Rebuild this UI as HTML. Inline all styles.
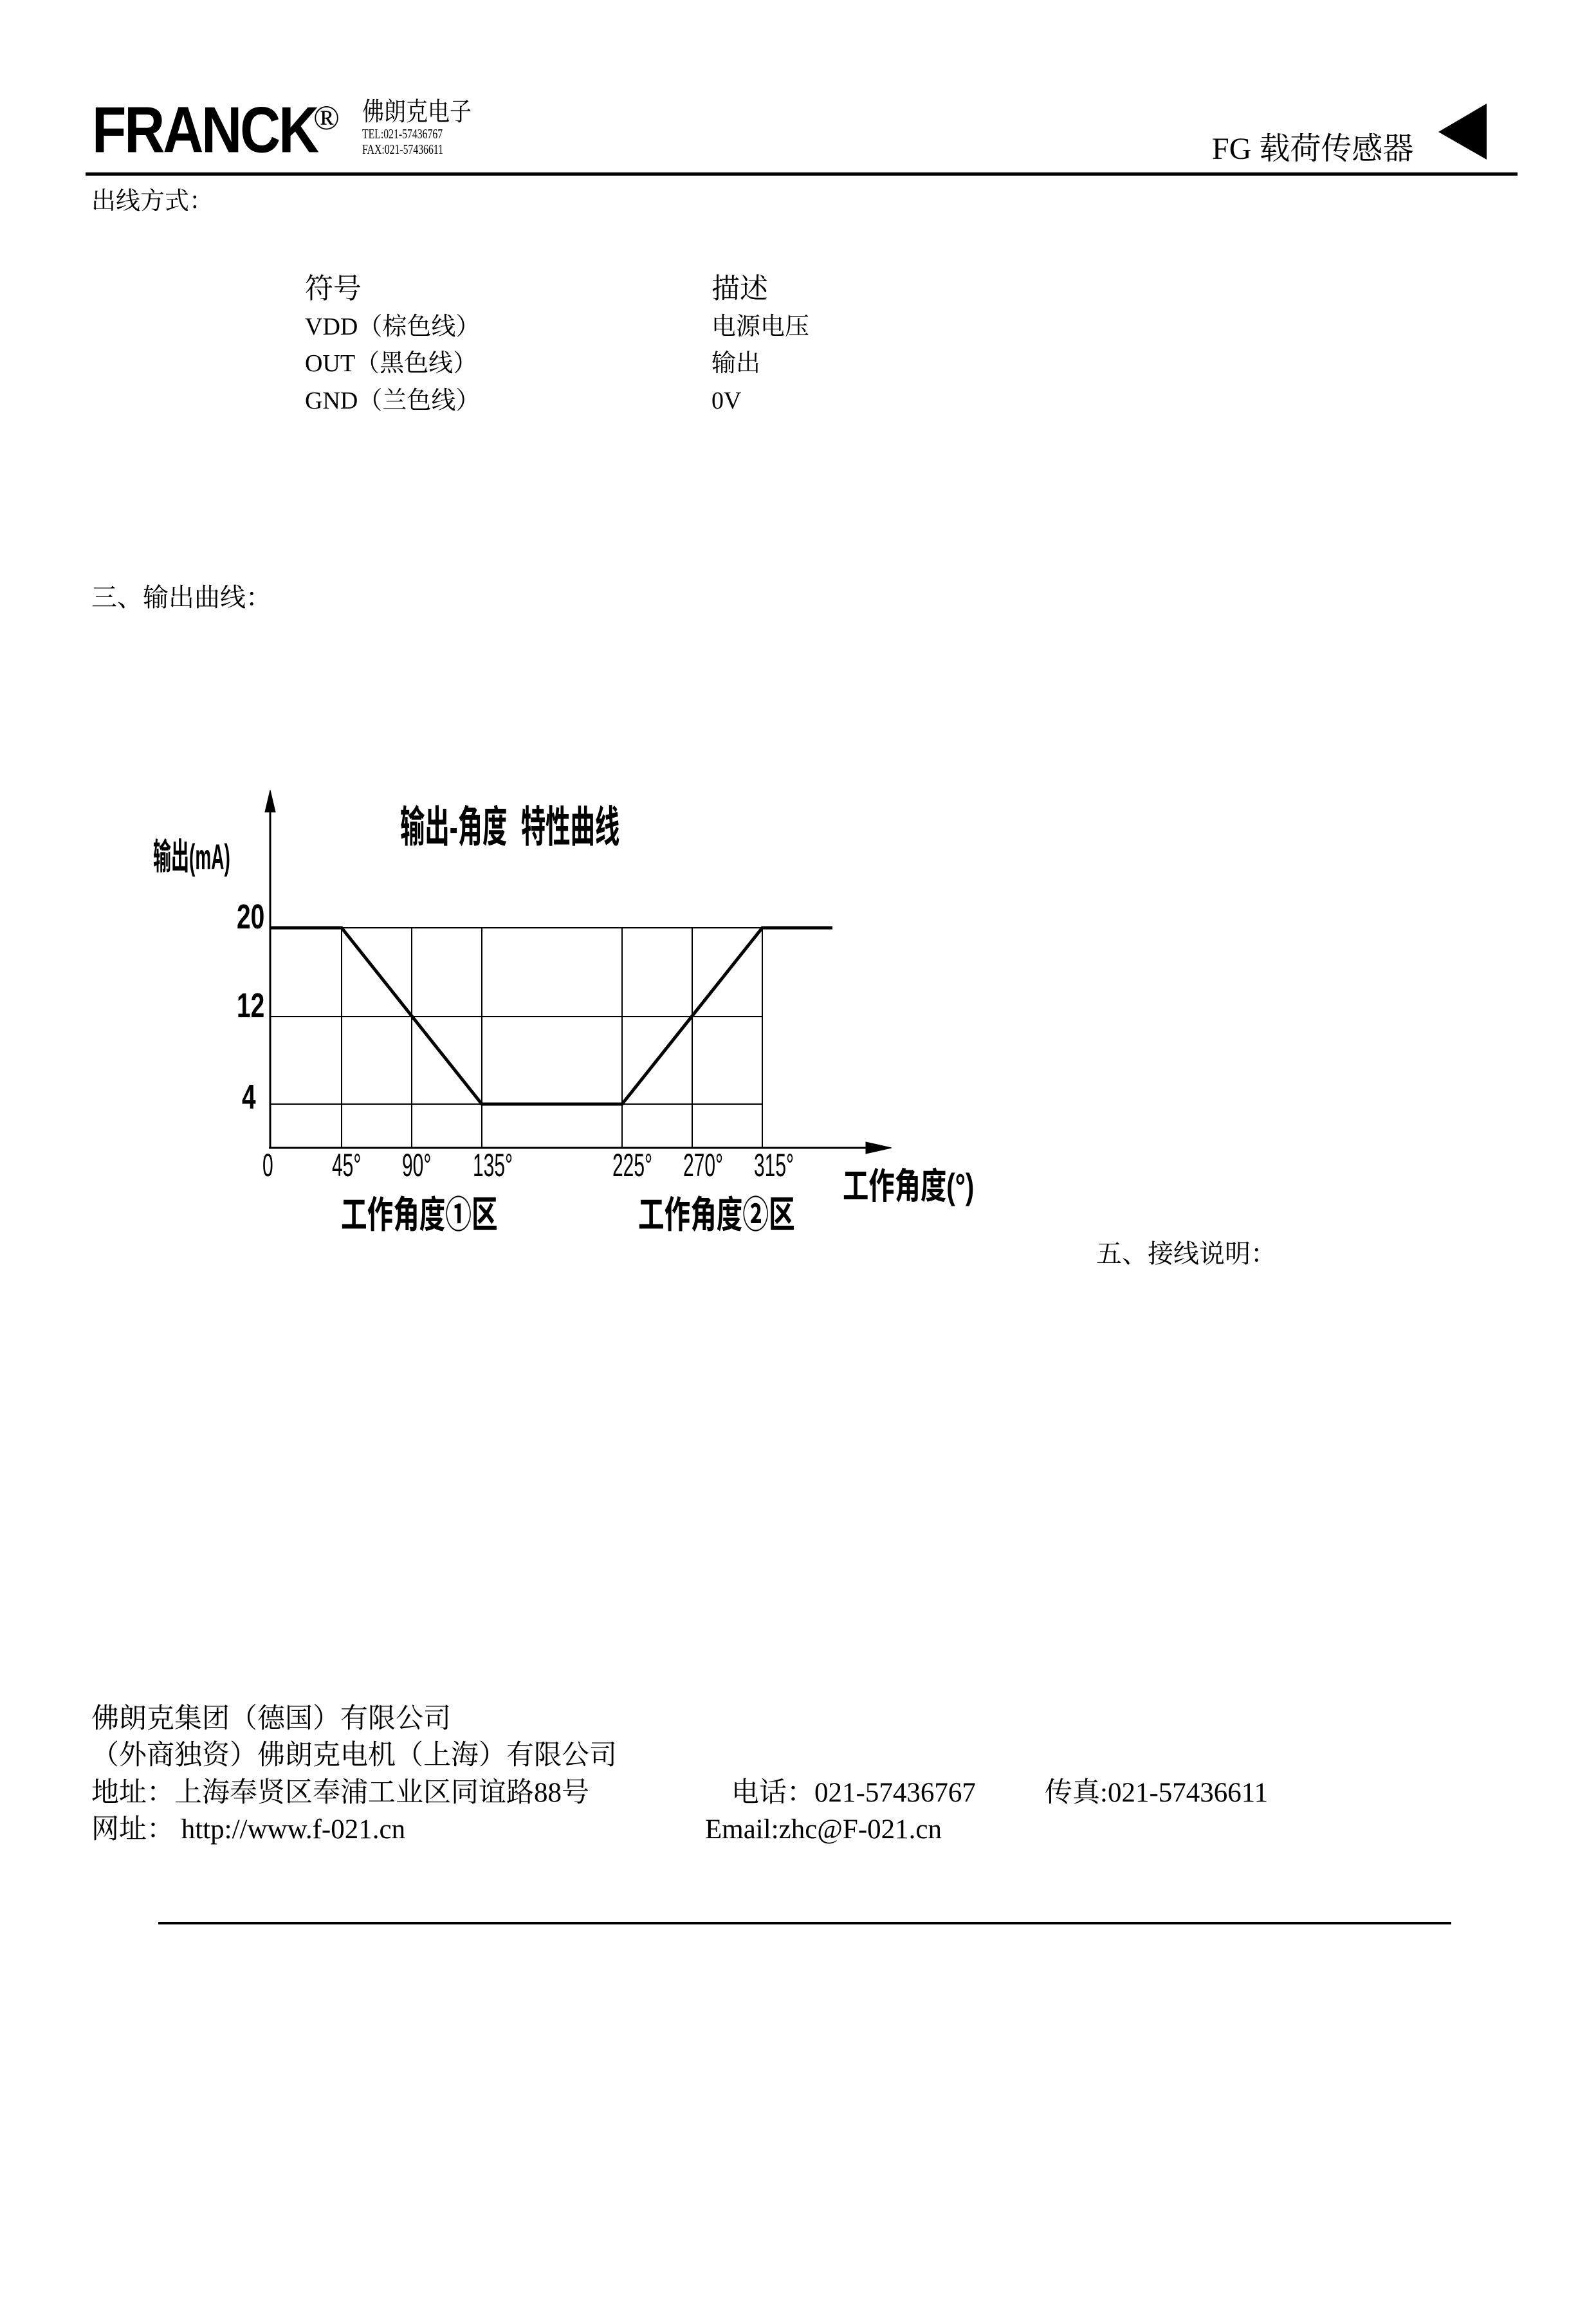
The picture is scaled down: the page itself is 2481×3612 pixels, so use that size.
<!DOCTYPE html>
<html><head><meta charset="utf-8">
<style>
html,body{margin:0;padding:0;background:#fff;}
body{width:2481px;height:3612px;position:relative;overflow:hidden;font-family:"Liberation Serif","Noto Serif CJK SC",serif;color:#000;}
.t{position:absolute;white-space:nowrap;line-height:1;}
.b{font-family:"Liberation Sans","Noto Sans CJK SC",sans-serif;font-weight:bold;transform-origin:0 0;}
</style></head><body>
<div class="t b" style="left:143px;top:152px;font-size:112px;letter-spacing:-4px;transform:scale(0.78,0.9);">FRANCK</div>
<div class="t" style="left:487px;top:156px;font-size:54px;">®</div>
<div class="t" style="left:563px;top:154px;font-size:40px;transform:scaleX(0.85);transform-origin:0 0;">佛朗克电子</div>
<div class="t" style="left:563px;top:198px;font-size:21px;transform:scaleX(0.75);transform-origin:0 0;">TEL:021-57436767</div>
<div class="t" style="left:563px;top:222px;font-size:21px;transform:scaleX(0.75);transform-origin:0 0;">FAX:021-57436611</div>
<div class="t" style="left:1884px;top:208px;font-size:48px;">FG 载荷传感器</div>
<svg style="position:absolute;left:0;top:0" width="2481" height="3612">
<polygon points="2311,161 2311,248 2236,205" fill="#000"/>
<rect x="133" y="268" width="2226" height="5" fill="#000"/>
<rect x="246" y="2987" width="2010" height="4" fill="#000"/>
<g stroke="#000" fill="none">
<line x1="420" y1="1250" x2="420" y2="1785" stroke-width="3"/>
<polygon points="420,1228 412,1262 428,1262" fill="#000"/>
<line x1="418" y1="1784" x2="1350" y2="1784" stroke-width="3"/>
<polygon points="1386,1784 1346,1775 1346,1793" fill="#000"/>
<line x1="420" y1="1442" x2="1185" y2="1442" stroke-width="2"/>
<line x1="420" y1="1580" x2="1185" y2="1580" stroke-width="2"/>
<line x1="420" y1="1716" x2="1185" y2="1716" stroke-width="2"/>
<line x1="531" y1="1442" x2="531" y2="1784" stroke-width="2"/>
<line x1="640" y1="1442" x2="640" y2="1784" stroke-width="2"/>
<line x1="749" y1="1442" x2="749" y2="1784" stroke-width="2"/>
<line x1="967" y1="1442" x2="967" y2="1784" stroke-width="2"/>
<line x1="1076" y1="1442" x2="1076" y2="1784" stroke-width="2"/>
<line x1="1185" y1="1442" x2="1185" y2="1784" stroke-width="2"/>
<polyline points="420,1442 531,1442 749,1716 967,1716 1185,1442 1294,1442" stroke-width="5"/>
</g>
</svg>
<div class="t" style="left:142px;top:294px;font-size:38px;">出线方式：</div>
<div class="t" style="left:474px;top:427px;font-size:44px;">符号</div>
<div class="t" style="left:1106px;top:427px;font-size:44px;">描述</div>
<div class="t" style="left:474px;top:489px;font-size:38px;">VDD（棕色线）</div>
<div class="t" style="left:1106px;top:489px;font-size:38px;">电源电压</div>
<div class="t" style="left:474px;top:546px;font-size:38px;">OUT（黑色线）</div>
<div class="t" style="left:1106px;top:546px;font-size:38px;">输出</div>
<div class="t" style="left:474px;top:604px;font-size:38px;">GND（兰色线）</div>
<div class="t" style="left:1106px;top:604px;font-size:38px;">0V</div>
<div class="t" style="left:142px;top:909px;font-size:40px;">三、输出曲线：</div>
<div class="t b" style="left:622px;top:1252px;font-size:64px;transform:scale(0.6,1.05);">输出-角度&nbsp;&nbsp;特性曲线</div>
<div class="t b" style="left:238px;top:1304px;font-size:56px;transform:scale(0.5,1);">输出(mA)</div>
<div class="t b" style="left:368px;top:1398px;font-size:54px;transform:scale(0.72,1);">20</div>
<div class="t b" style="left:368px;top:1536px;font-size:54px;transform:scale(0.72,1);">12</div>
<div class="t b" style="left:376px;top:1678px;font-size:54px;transform:scale(0.72,1);">4</div>
<div class="t b" style="left:408px;top:1786px;font-size:50px;font-weight:normal;transform:scale(0.6,1);">0</div>
<div class="t b" style="left:516px;top:1786px;font-size:50px;font-weight:normal;transform:scale(0.6,1);">45°</div>
<div class="t b" style="left:625px;top:1786px;font-size:50px;font-weight:normal;transform:scale(0.6,1);">90°</div>
<div class="t b" style="left:735px;top:1786px;font-size:50px;font-weight:normal;transform:scale(0.6,1);">135°</div>
<div class="t b" style="left:952px;top:1786px;font-size:50px;font-weight:normal;transform:scale(0.6,1);">225°</div>
<div class="t b" style="left:1062px;top:1786px;font-size:50px;font-weight:normal;transform:scale(0.6,1);">270°</div>
<div class="t b" style="left:1172px;top:1786px;font-size:50px;font-weight:normal;transform:scale(0.6,1);">315°</div>
<div class="t b" style="left:1310px;top:1816px;font-size:56px;transform:scale(0.72,1);">工作角度(°)</div>
<div class="t b" style="left:530px;top:1860px;font-size:58px;transform:scale(0.7,1);">工作角度①区</div>
<div class="t b" style="left:992px;top:1860px;font-size:58px;transform:scale(0.7,1);">工作角度②区</div>
<div class="t" style="left:1704px;top:1929px;font-size:40px;">五、接线说明：</div>
<div class="t" style="left:142px;top:2650px;font-size:43px;">佛朗克集团（德国）有限公司</div>
<div class="t" style="left:142px;top:2707px;font-size:43px;">（外商独资）佛朗克电机（上海）有限公司</div>
<div class="t" style="left:142px;top:2765px;font-size:43px;">地址：上海奉贤区奉浦工业区同谊路88号</div>
<div class="t" style="left:1137px;top:2765px;font-size:43px;">电话：021-57436767</div>
<div class="t" style="left:1624px;top:2765px;font-size:43px;">传真:021-57436611</div>
<div class="t" style="left:142px;top:2822px;font-size:43px;">网址： http://www.f-021.cn</div>
<div class="t" style="left:1096px;top:2822px;font-size:43px;">Email:zhc@F-021.cn</div>
</body></html>
